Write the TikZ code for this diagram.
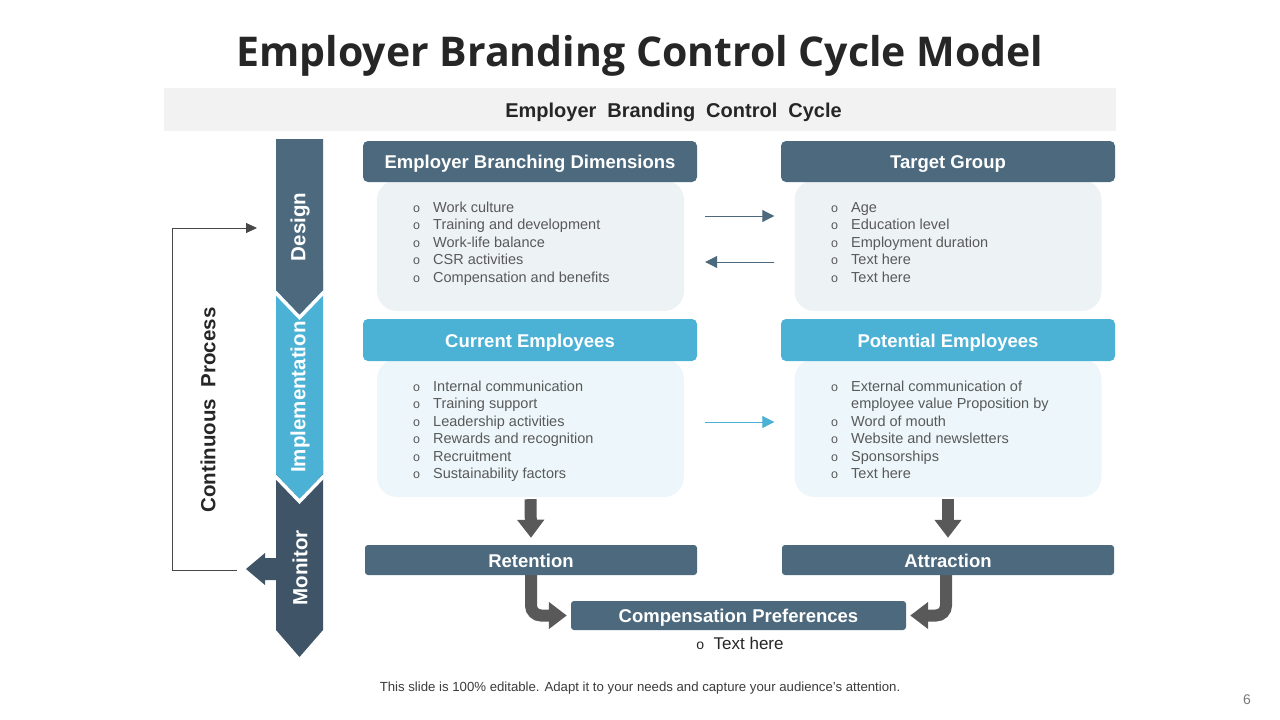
\documentclass[tikz,border=0pt]{standalone}
\usepackage{fontspec}
\setmainfont{Liberation Sans}
\newfontfamily\titlefont{Open Sans}
\usetikzlibrary{arrows.meta,calc}
\definecolor{dk}{HTML}{4C697D}
\definecolor{lb}{HTML}{4BB2D6}
\definecolor{mon}{HTML}{3F5567}
\definecolor{boxa}{HTML}{EDF2F5}
\definecolor{boxb}{HTML}{EDF7FB}
\definecolor{txt}{HTML}{595959}
\definecolor{arr}{HTML}{595959}
\definecolor{ttl}{HTML}{262626}
\definecolor{band}{HTML}{F2F2F2}
\newcommand{\bul}{\makebox[20pt][l]{\fontsize{12.5}{12}\selectfont o}}
\begin{document}
\begin{tikzpicture}[x=1pt,y=-1pt,
  hdr/.style={rounded corners=5pt, minimum width=334pt, minimum height=41pt, text=white,
    font=\fontsize{18.5}{20}\selectfont\bfseries, inner sep=0pt, text height=14pt, text depth=0pt},
  smallhdr/.style={hdr, rounded corners=3pt, minimum height=30pt, minimum width=332pt, fill=dk},
  cbox/.style={rounded corners=20pt, minimum width=307pt, inner sep=0pt},
  lst/.style={font=\fontsize{14.5}{17.5}\selectfont, text=txt, inner sep=0pt, anchor=base west},
  thinarr/.style={line width=1pt, -{Triangle[length=12pt,width=12pt]}},
  thickarr/.style={draw=arr, line width=12pt, -{Triangle[length=18pt,width=26pt]}},
  barlbl/.style={rotate=90, text=white, font=\fontsize{20.5}{22}\selectfont\bfseries, inner sep=0pt}
]
\useasboundingbox (0,0) rectangle (1280,720);
\fill[white] (0,0) rectangle (1280,720);

% title
\node[anchor=base, text=ttl, font=\titlefont\fontsize{41}{46}\selectfont\bfseries, inner sep=0pt] (title) at (640,66) {Employer Branding Control Cycle Model};

% band
\node[fill=band, minimum width=952pt, minimum height=43pt, inner sep=0pt] (band) at (640,109.5) {};
\node[anchor=base, text=ttl, font=\fontsize{20}{22}\selectfont\bfseries, inner sep=0pt] (bandtxt) at (673.5,117.5) {Employer\hspace{11pt}Branding\hspace{11pt}Control\hspace{11pt}Cycle};

% left bar
\fill[mon] (276,460) -- (323,460) -- (323,630) -- (299.5,657) -- (276,630) -- cycle;
\fill[lb] (276,270) -- (323,270) -- (323,474) -- (299.5,499) -- (276,474) -- cycle;
\draw[white, line width=3.5pt] (275,476) -- (299.5,501.5) -- (324,476);
\fill[dk] (276,139) -- (323,139) -- (323,290) -- (299.5,315) -- (276,290) -- cycle;
\draw[white, line width=3.5pt] (275,292) -- (299.5,317.5) -- (324,292);
\node[barlbl] (lblD) at (300,227) {Design};
\node[barlbl] (lblI) at (300,397) {Implementation};
\node[barlbl] (lblM) at (300,568) {Monitor};

% monitor arrow
\fill[mon] (276,558) -- (265,558) -- (265,553) -- (246,569) -- (265,585) -- (265,580) -- (276,580) -- cycle;

% continuous process loop
\coordinate (loopA) at (237,570);
\coordinate (loopB) at (257,228);
\draw[draw=ttl!85, line width=0.8pt, -{Triangle[length=11pt,width=10pt]}] (loopA) -- (172,570) -- (172,228) -- (loopB);
\node[rotate=90, text=ttl, font=\fontsize{20.5}{22}\selectfont\bfseries, inner sep=0pt] (cont) at (208,410) {Continuous\ \ Process};

% content boxes
\node[cbox, fill=boxa, minimum height=131pt] (c1) at (530.5,245.5) {};
\node[cbox, fill=boxa, minimum height=131pt] (c2) at (948,245.5) {};
\node[cbox, fill=boxb, minimum height=138pt] (c3) at (530.5,428) {};
\node[cbox, fill=boxb, minimum height=138pt] (c4) at (948,428) {};

% headers
\node[hdr, fill=dk] (h1) at (530,161.5) {Employer Branching Dimensions};
\node[hdr, fill=dk] (h2) at (948,161.5) {Target Group};
\node[hdr, fill=lb, minimum height=42pt] (h3) at (530,340) {Current Employees};
\node[hdr, fill=lb, minimum height=42pt] (h4) at (948,340) {Potential Employees};

% lists
\node[lst] (l1) at (413,212) {\begin{tabular}[t]{@{}l@{}l@{}}
\bul & Work culture\\
\bul & Training and development\\
\bul & Work-life balance\\
\bul & CSR activities\\
\bul & Compensation and benefits
\end{tabular}};
\node[lst] (l2) at (831,212) {\begin{tabular}[t]{@{}l@{}l@{}}
\bul & Age\\
\bul & Education level\\
\bul & Employment duration\\
\bul & Text here\\
\bul & Text here
\end{tabular}};
\node[lst] (l3) at (413,391) {\begin{tabular}[t]{@{}l@{}l@{}}
\bul & Internal communication\\
\bul & Training support\\
\bul & Leadership activities\\
\bul & Rewards and recognition\\
\bul & Recruitment\\
\bul & Sustainability factors
\end{tabular}};
\node[lst] (l4) at (831,391) {\begin{tabular}[t]{@{}l@{}l@{}}
\bul & External communication of\\
 & employee value Proposition by\\
\bul & Word of mouth\\
\bul & Website and newsletters\\
\bul & Sponsorships\\
\bul & Text here
\end{tabular}};

% thin arrows
\draw[thinarr, draw=dk, fill=dk] ([xshift=21pt,yshift=29.5pt]c1.east) -- ([xshift=-20pt,yshift=29.5pt]c2.west);
\draw[thinarr, draw=dk, fill=dk] ([xshift=-20pt,yshift=-16.5pt]c2.west) -- ([xshift=21pt,yshift=-16.5pt]c1.east);
\draw[thinarr, draw=lb, fill=lb] ([xshift=21pt,yshift=6pt]c3.east) -- ([xshift=-20pt,yshift=6pt]c4.west);

% bottom boxes
\node[smallhdr] (r1) at (531,560) {Retention};
\node[smallhdr] (a1) at (948,560) {Attraction};
\node[smallhdr, minimum width=335pt, minimum height=29pt] (cp) at (738.5,615.5) {Compensation Preferences};
\node[anchor=base, text=ttl, font=\fontsize{17}{19}\selectfont, inner sep=0pt] (th) at (740,649) {{\fontsize{14}{14}\selectfont o}\ \ Text here};

% thick arrows
\draw[thickarr] ([yshift=-2pt]c3.south) -- ([yshift=7pt]r1.north);
\draw[thickarr] ([yshift=-2pt]c4.south) -- ([yshift=7pt]a1.north);
\draw[thickarr, rounded corners=10pt] (r1.south) |- ([xshift=-4pt]cp.west);
\draw[thickarr, rounded corners=10pt] ([xshift=-2pt]a1.south) |- ([xshift=4pt]cp.east);

% footer
\node[anchor=base, text=ttl!90, font=\fontsize{13.2}{15}\selectfont, inner sep=0pt] (foot) at (640,691) {This slide is 100\% editable. Adapt it to your needs and capture your audience's attention.};
\node[anchor=base, text=txt!80, font=\fontsize{14}{16}\selectfont, inner sep=0pt] (pg) at (1247,704) {6};
\end{tikzpicture}
\end{document}
